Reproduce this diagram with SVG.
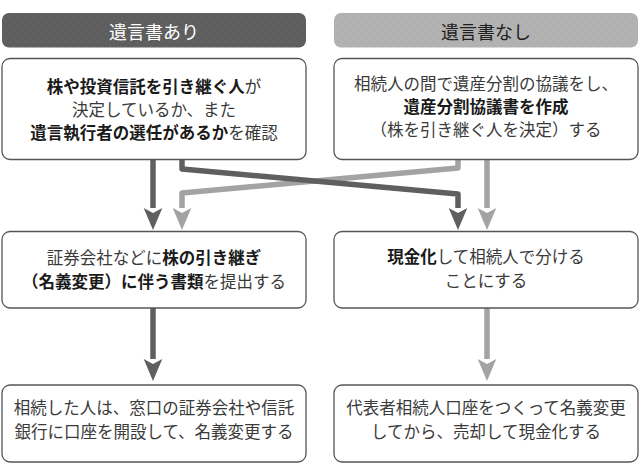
<svg xmlns="http://www.w3.org/2000/svg" width="640" height="470" viewBox="0 0 640 470">
<defs>
<pattern id="dotsD" width="8" height="8" patternUnits="userSpaceOnUse"><rect width="8" height="8" fill="#5e5e5e"/><circle cx="2" cy="2" r="0.6" fill="#7a7a7a"/><circle cx="6" cy="6" r="0.6" fill="#7a7a7a"/></pattern>
<pattern id="dotsL" width="8" height="8" patternUnits="userSpaceOnUse"><rect width="8" height="8" fill="#b2b2b2"/><circle cx="2" cy="2" r="0.6" fill="#9c9c9c"/><circle cx="6" cy="6" r="0.6" fill="#9c9c9c"/></pattern>
<marker id="ahD" markerUnits="userSpaceOnUse" markerWidth="22" markerHeight="26" refX="0" refY="11" orient="auto" viewBox="0 0 26 22"><path d="M0,0 L26,11 L0,22 L6,11 Z" fill="#5f5f5f"/></marker>
<marker id="ahL" markerUnits="userSpaceOnUse" markerWidth="22" markerHeight="26" refX="0" refY="11" orient="auto" viewBox="0 0 26 22"><path d="M0,0 L26,11 L0,22 L6,11 Z" fill="#a3a3a3"/></marker>
</defs>
<style>
.box{fill:#ffffff;stroke:#555555;stroke-width:1.3}
.t{font-family:"Noto Sans CJK JP","Noto Sans",sans-serif;font-size:16.5px;fill:#3a3a3a;text-anchor:middle}
.b{font-weight:bold;fill:#1a1a1a}
.h{font-family:"Noto Sans CJK JP","Noto Sans",sans-serif;font-size:18px;text-anchor:middle}
.cd{fill:none;stroke:#5f5f5f;stroke-width:5.5;stroke-linejoin:round}
.cl{fill:none;stroke:#a3a3a3;stroke-width:5.5;stroke-linejoin:round}
</style>
<rect width="640" height="470" fill="#ffffff"/>

<g id="header-left">
<rect x="2" y="13" width="304" height="34.5" rx="7" fill="url(#dotsD)"/>
<text class="h" x="154" y="38.5" fill="#ffffff">遺言書あり</text>
</g>
<g id="header-right">
<rect x="334" y="13" width="304" height="34.5" rx="7" fill="url(#dotsL)"/>
<text class="h" x="486" y="38.5" fill="#1e1e1e">遺言書なし</text>
</g>

<g id="connectors">
<path class="cl" d="M458,160 L458,168 L182,193 L182,208" marker-end="url(#ahL)"/>
<path class="cl" d="M487,160 L487,208" marker-end="url(#ahL)"/>
<path class="cd" d="M153,160 L153,208" marker-end="url(#ahD)"/>
<path class="cd" d="M182,160 L182,169 L458,194 L458,208" marker-end="url(#ahD)"/>
<path class="cd" d="M153,308 L153,359" marker-end="url(#ahD)"/>
<path class="cl" d="M487,308 L487,359" marker-end="url(#ahL)"/>
</g>

<g id="node-l1">
<rect class="box" x="2" y="58.5" width="304" height="101" rx="8"/>
<text class="t" x="154" y="93"><tspan class="b">株や投資信託を引き継ぐ人</tspan>が</text>
<text class="t" x="154" y="116">決定しているか、また</text>
<text class="t" x="154" y="139"><tspan class="b">遺言執行者の選任があるか</tspan>を確認</text>
</g>
<g id="node-r1">
<rect class="box" x="334" y="58.5" width="304" height="101" rx="8"/>
<text class="t" x="486" y="90">相続人の間で遺産分割の協議をし、</text>
<text class="t b" x="486" y="113">遺産分割協議書を作成</text>
<text class="t" x="486" y="136">（株を引き継ぐ人を決定）する</text>
</g>
<g id="node-l2">
<rect class="box" x="2" y="231.5" width="304" height="76.5" rx="8"/>
<text class="t" x="154" y="264">証券会社などに<tspan class="b">株の引き継ぎ</tspan></text>
<text class="t" x="154" y="288"><tspan class="b">（名義変更）に伴う書類</tspan>を提出する</text>
</g>
<g id="node-r2">
<rect class="box" x="334" y="231.5" width="304" height="76.5" rx="8"/>
<text class="t" x="486" y="263"><tspan class="b">現金化</tspan>して相続人で分ける</text>
<text class="t" x="486" y="287">ことにする</text>
</g>
<g id="node-l3">
<rect class="box" x="2" y="385" width="304" height="77" rx="8"/>
<text class="t" x="154" y="414">相続した人は、窓口の証券会社や信託</text>
<text class="t" x="154" y="438">銀行に口座を開設して、名義変更する</text>
</g>
<g id="node-r3">
<rect class="box" x="334" y="385" width="304" height="77" rx="8"/>
<text class="t" x="486" y="414">代表者相続人口座をつくって名義変更</text>
<text class="t" x="486" y="438">してから、売却して現金化する</text>
</g>
</svg>
